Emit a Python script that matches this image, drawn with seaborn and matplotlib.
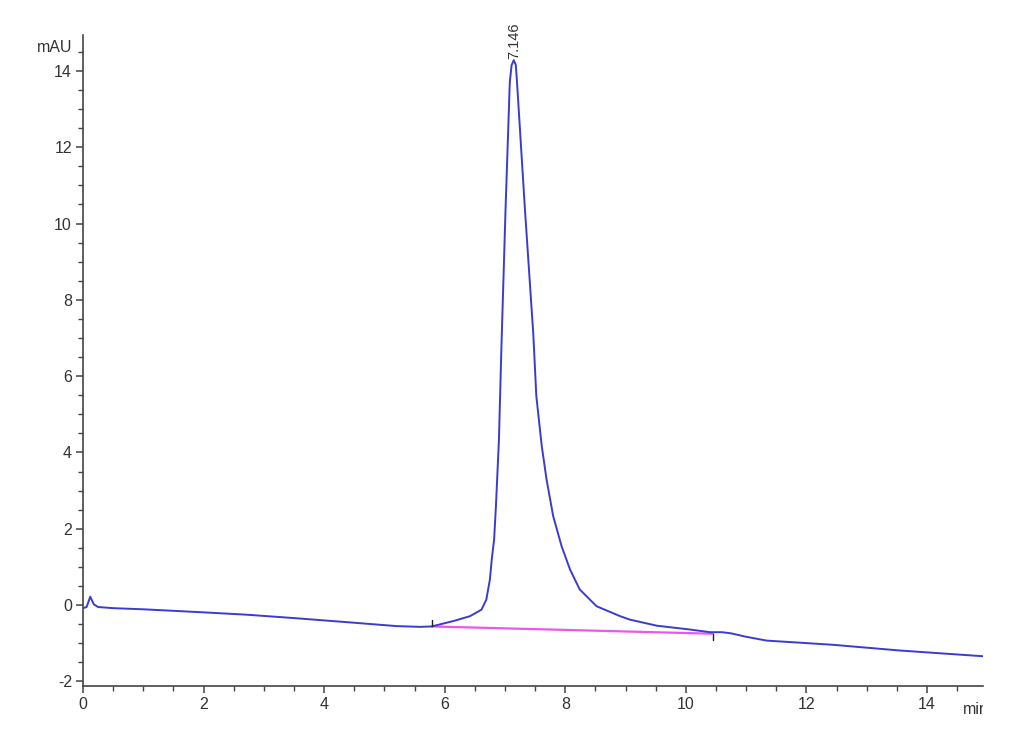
import matplotlib
matplotlib.use("Agg")
import matplotlib.pyplot as plt
import matplotlib.transforms as mtransforms
from matplotlib.ticker import MultipleLocator
import pandas as pd
import seaborn as sns

# --------------------------------------------------------------------------- #
# Data (time in min, signal in mAU)
# --------------------------------------------------------------------------- #
time_min = [0.00, 0.06, 0.12, 0.18, 0.25, 0.50, 1.00, 2.00, 2.70, 3.50,
            4.40, 5.20, 5.59, 5.78, 6.14, 6.42, 6.61, 6.69, 6.75, 6.78,
            6.82, 6.85, 6.90, 6.94, 7.01, 7.08, 7.11, 7.146, 7.18, 7.20,
            7.33, 7.47, 7.52, 7.61, 7.69, 7.80, 7.94, 8.08, 8.24, 8.52,
            8.91, 9.07, 9.52, 10.07, 10.40, 10.60, 10.75, 11.00, 11.34, 12.44,
            13.55, 14.93]
signal_mau = [-0.08, -0.05, 0.22, 0.02, -0.05, -0.08, -0.11, -0.19, -0.25, -0.34,
              -0.45, -0.55, -0.57, -0.56, -0.42, -0.29, -0.12, 0.14, 0.67, 1.19,
              1.72, 2.59, 4.34, 6.70, 10.40, 13.70, 14.15, 14.28, 14.15, 13.70,
              10.40, 7.10, 5.48, 4.17, 3.29, 2.33, 1.54, 0.93, 0.41, -0.03,
              -0.29, -0.38, -0.54, -0.64, -0.71, -0.71, -0.74, -0.83, -0.93, -1.04,
              -1.19, -1.34]

# integration baseline of the main peak
baseline_x = [5.79, 10.45]
baseline_y = [-0.56, -0.75]

peak_rt = 7.146
peak_height = 14.28
peak_label = "7.146"

x_ticks = [0, 2, 4, 6, 8, 10, 12, 14]
y_ticks = [-2, 0, 2, 4, 6, 8, 10, 12, 14]

trace = pd.DataFrame({"time": time_min, "signal": signal_mau})
base = pd.DataFrame({"time": baseline_x, "signal": baseline_y})

# --------------------------------------------------------------------------- #
# Plot
# --------------------------------------------------------------------------- #
sns.set_theme(style="ticks")
plt.rcParams["font.family"] = ["Liberation Sans", "DejaVu Sans"]
plt.rcParams["axes.unicode_minus"] = False

AXIS_COLOR = "#444444"
TEXT_COLOR = "#333333"

fig = plt.figure(figsize=(10.3, 7.55), dpi=100)
ax = fig.add_axes([83 / 1030, 1 - 686 / 755, 900 / 1030, 651 / 755])

sns.lineplot(data=base, x="time", y="signal", ax=ax, color="#ee55ee",
             linewidth=1.6, zorder=2)
sns.lineplot(data=trace, x="time", y="signal", ax=ax, color="#3b3bd0",
             linewidth=1.4, zorder=3)

# small integration start/end markers
ax.plot([baseline_x[0]] * 2, [baseline_y[0], baseline_y[0] + 0.17],
        color="#222222", lw=1, zorder=4)
ax.plot([baseline_x[1]] * 2, [baseline_y[1], baseline_y[1] - 0.17],
        color="#222222", lw=1, zorder=4)

# retention time label
ax.text(peak_rt, peak_height + 0.02, peak_label, rotation=90, ha="center",
        va="bottom", fontsize=10.5, color=TEXT_COLOR)

ax.set_xlim(0, 14.93)
ax.set_ylim(-2.12, 14.94)
ax.set_xticks(x_ticks)
ax.set_yticks(y_ticks)
ax.xaxis.set_minor_locator(MultipleLocator(0.5))
ax.yaxis.set_minor_locator(MultipleLocator(0.5))
ax.set_xlabel("")
ax.set_ylabel("")

sns.despine(ax=ax)
for side in ("left", "bottom"):
    ax.spines[side].set_color(AXIS_COLOR)
    ax.spines[side].set_linewidth(1.2)
ax.tick_params(which="major", length=5, width=1.1, color=AXIS_COLOR,
               labelsize=11.5, labelcolor=TEXT_COLOR, pad=3)
ax.tick_params(which="minor", length=3.5, width=1.0, color=AXIS_COLOR)

# axis unit labels
fig.text(72 / 1030, 1 - 47 / 755, "mAU", ha="right", va="center",
         fontsize=11.5, color=TEXT_COLOR)
unit_txt = fig.text(976 / 1030, 1 - 709 / 755, "min", ha="center",
                    va="center", fontsize=11.5, color=TEXT_COLOR)
unit_txt.set_clip_box(mtransforms.TransformedBbox(
    mtransforms.Bbox([[0, 0], [983 / 1030, 1]]), fig.transFigure))
unit_txt.set_clip_on(True)

fig.savefig("out.png", dpi=100, facecolor="white")
plt.close(fig)
